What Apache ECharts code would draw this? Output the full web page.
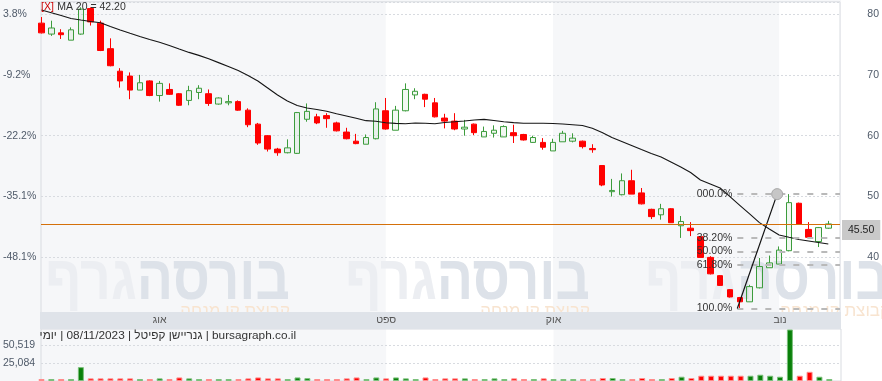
<!DOCTYPE html>
<html><head><meta charset="utf-8">
<script src="https://cdn.jsdelivr.net/npm/echarts@6/dist/echarts.min.js"></script>
<style>html,body{margin:0;padding:0;background:#f6f7f9;overflow:hidden}#c{width:882px;height:381px}</style>
</head><body><div id="c"></div>
<script>
// ---- data ----
const opens = [
78.5,76.7,76.9,75.7,76.7,80.9,78.5,74.3,70.6,69.8,
67.5,69.0,66.6,67.6,66.9,65.8,67.1,66.9,65.2,65.4,
65.6,64.2,61.9,60.0,57.8,57.2,57.1,62.7,63.1,63.3,
62.1,60.6,59.1,58.6,59.5,64.1,60.9,64.1,66.7,66.8,
65.4,62.9,62.4,61.1,61.9,59.8,60.4,59.8,60.5,60.2,
58.9,58.9,57.5,59.0,59.1,59.1,57.9,55.1,50.8,50.3,
52.6,50.6,47.9,47.0,48.0,45.2,44.8,43.4,40.0,37.0,
34.7,33.4,32.7,35.0,38.3,38.9,41.1,48.9,44.6,42.6,
44.8];
const closes = [
76.9,77.7,76.6,77.4,80.8,78.7,74.0,71.5,69.0,67.5,
68.7,66.6,68.6,66.8,65.0,67.4,67.8,65.3,66.2,65.6,
64.2,61.8,58.8,57.8,57.2,58.0,63.8,64.0,62.1,62.8,
60.8,59.5,58.7,59.7,64.4,61.1,64.2,67.6,67.3,66.0,
63.1,62.4,61.1,61.4,60.5,60.7,60.9,61.5,60.0,59.3,
59.7,58.1,58.9,60.4,59.6,58.2,57.7,51.9,51.0,52.6,
50.4,48.8,46.7,48.0,45.7,45.9,44.4,40.0,37.3,35.4,
33.5,32.7,35.2,38.5,39.1,41.2,49.0,45.5,43.3,44.9,
45.5];
const lows = [
76.8,76.4,75.9,75.7,76.6,78.1,73.9,71.4,67.9,66.0,
67.5,66.5,65.6,66.7,64.9,65.0,66.0,64.9,65.1,65.0,
64.1,61.4,58.5,57.4,56.7,57.1,57.0,62.3,61.9,61.3,
60.7,59.4,58.6,58.6,59.4,61.0,60.9,64.0,66.0,64.7,
63.0,61.2,60.9,60.0,60.1,59.8,59.7,59.8,58.8,59.2,
58.8,57.7,57.5,59.0,58.9,57.9,57.2,51.7,50.0,50.2,
50.4,48.7,46.3,46.2,45.7,43.2,43.5,40.0,37.2,35.3,
33.4,31.6,32.7,34.9,38.3,38.9,41.0,45.4,43.2,41.7,
44.7];
const highs = [
79.5,78.9,77.5,77.8,81.1,81.1,78.9,76.0,71.1,70.4,
70.0,69.1,69.0,68.6,67.0,68.2,68.3,67.6,66.3,66.7,
65.8,64.5,62.1,60.1,58.0,59.4,63.9,65.3,63.6,63.7,
62.3,61.3,60.3,60.2,65.5,66.2,64.9,68.6,67.8,66.9,
66.2,63.6,63.7,62.6,62.0,61.5,61.7,61.7,61.8,60.3,
60.0,59.6,59.5,60.8,60.4,59.2,58.6,55.1,52.9,53.8,
54.4,51.4,48.0,48.8,48.1,46.8,45.8,43.5,40.2,37.1,
34.8,33.5,35.5,39.9,40.3,41.8,50.4,49.0,45.8,45.0,
46.0];
const ma20 = [
80.66,80.21,79.75,79.26,79.01,78.77,78.57,77.95,77.37,76.83,
76.30,75.81,75.35,74.82,74.25,73.69,73.20,72.64,72.01,71.37,
70.70,69.89,68.99,67.84,66.69,65.70,64.96,64.55,64.31,64.01,
63.62,63.24,62.86,62.47,62.37,62.12,62.02,61.97,62.09,62.05,
61.97,62.17,62.28,62.42,62.58,62.68,62.50,62.30,62.15,62.04,
62.04,62.04,62.01,61.92,61.81,61.68,61.22,60.54,59.70,59.05,
58.39,57.73,57.08,56.50,55.68,54.86,53.95,52.72,52.06,51.40,
49.98,48.56,47.15,45.72,44.67,43.68,43.30,42.94,42.70,42.45,
42.20];
const volumes = [
2800,2800,2800,2800,19500,3700,3700,3700,3700,3700,
2800,2800,3700,2800,5000,3700,2800,2800,2800,2800,
2800,3700,5000,3700,3700,2800,5000,4000,2800,2800,
2800,3700,5000,2800,5000,3700,5000,3700,2800,5000,
2800,3700,3700,3700,2800,2800,3700,2800,3700,2800,
2800,3700,2800,2800,2800,2800,2800,4200,4200,2800,
2800,4200,2800,2800,4200,6000,4200,7400,7400,7400,
7400,7400,7400,8800,7400,6000,72300,7400,12900,6000,
2800];
const monthStarts = [12, 35, 52, 75];
const monthNames = ['אוג', 'ספט', 'אוק', 'נוב'];
const whiteBands = [[35, 52], [75, 81.19]];
const priceTicks = [40, 50, 60, 70, 80];
const pctTicks = ['-48.1%', '-35.1%', '-22.2%', '-9.2%', '3.8%'];
const volTicks = [25084, 50519];
const lastPrice = 45.5;
const fibHigh = 50.4, fibLow = 31.6;
const fibHighIdx = 74.8, fibLowIdx = 70.75;
const fibRatios = [0, 0.382, 0.5, 0.618, 1];
const fibLabels = ['000.0%', '38.20%', '50.00%', '61.80%', '100.0%'];
const footerText = 'bursagraph.co.il | גנריישן קפיטל | 08/11/2023 | יומי';
const maName = 'MA 20';

// ---- chart ----
const X_MIN = -0.05, X_MAX = 81.19;
const FONT = '"Liberation Sans", Arial, sans-serif';
const LBL = '#4f5a69';

const candleData = opens.map((o, i) => [i, o, closes[i], lows[i], highs[i]]);
const maData = ma20.map((v, i) => [i, v]);
const volData = volumes.map((v, i) => ({
  value: [i, v],
  itemStyle: closes[i] >= opens[i]
    ? { color: '#0a800a', borderColor: '#7cc07c', borderWidth: 1 }
    : { color: '#ff0000', borderColor: '#ff8c8c', borderWidth: 1 }
}));

const fibLines = fibRatios.map((r, k) => {
  const p = fibHigh - r * (fibHigh - fibLow);
  return [
    { coord: [fibLowIdx, p], label: { show: true, position: 'start', formatter: fibLabels[k], color: '#333', fontSize: 10.5, fontFamily: FONT, distance: 5 },
      lineStyle: { color: '#b9b9b9', width: 2, type: [6, 8] } },
    { coord: [X_MAX, p] }
  ];
});

const markLineData = fibLines.concat([
  [ { coord: [fibLowIdx, fibLow], label: { show: false }, lineStyle: { color: '#111', width: 1.2, type: 'solid' } },
    { coord: [fibHighIdx, fibHigh] } ],
  { yAxis: lastPrice, lineStyle: { color: '#d4700a', width: 1.2, type: 'solid' },
    label: { show: true, position: 'end', distance: 2, formatter: lastPrice.toFixed(2),
      backgroundColor: '#c9c9c9', color: '#222', fontSize: 10.5, fontFamily: FONT, padding: [5, 6, 4, 6], offset: [0, 6] } }
]);

const bandArea = whiteBands.map(b => [{ xAxis: b[0] }, { xAxis: b[1] }]);

const WM_FONT = '"Liberation Sans", "DejaVu Sans", sans-serif';
const wm = [];
[290, 590, 890].forEach(xr => {
  wm.push({
    type: 'text', z: -1, silent: true, x: xr, y: 282, scaleX: 0.96, scaleY: 1.12,
    style: { text: '{l|גרף}{d|בורסה}', align: 'right', verticalAlign: 'middle',
      rich: {
        l: { fill: '#eceef2', fontSize: 56, fontWeight: 'bold', fontFamily: WM_FONT },
        d: { fill: '#dde2e9', fontSize: 56, fontWeight: 'bold', fontFamily: WM_FONT }
      } }
  });
  wm.push({
    type: 'text', z: -1, silent: true, x: xr, y: 311,
    style: { text: 'קבוצת קו מנחה', align: 'right', verticalAlign: 'middle', fill: '#f8e4d0', fontSize: 17, fontFamily: WM_FONT }
  });
});

const option = {
  animation: false,
  backgroundColor: '#f6f7f9',
  textStyle: { fontFamily: FONT },
  grid: [
    { left: 40, right: 41, top: 1.83, height: 316.42, show: true, borderColor: '#d9dce1', borderWidth: 1, backgroundColor: 'transparent' },
    { left: 40, right: 41, top: 329, height: 52.35, show: true, borderColor: '#d9dce1', borderWidth: 1, backgroundColor: 'transparent' }
  ],
  xAxis: [
    { type: 'value', gridIndex: 0, min: X_MIN, max: X_MAX, show: false },
    { type: 'value', gridIndex: 1, min: X_MIN, max: X_MAX, position: 'top', z: 6,
      axisLine: { show: false }, axisTick: { show: false }, splitLine: { show: false },
      axisLabel: { customValues: monthStarts, margin: 3, color: '#555', fontSize: 10.5, fontFamily: FONT,
        formatter: v => { const k = monthStarts.indexOf(Math.round(v)); return k < 0 ? '' : monthNames[k]; } } }
  ],
  yAxis: [
    { type: 'value', gridIndex: 0, position: 'right', min: 30, max: 82, interval: 10,
      axisLine: { show: false }, axisTick: { show: false },
      splitLine: { show: true, lineStyle: { color: '#d8dbe0', type: [2, 2], width: 1 } },
      axisLabel: { align: 'right', margin: 39, color: LBL, fontSize: 10.5, fontFamily: FONT,
        formatter: v => priceTicks.indexOf(v) < 0 ? '' : String(v) } },
    { type: 'value', gridIndex: 0, position: 'left', min: 30, max: 82, interval: 10,
      axisLine: { show: false }, axisTick: { show: false }, splitLine: { show: false },
      axisLabel: { align: 'left', margin: 38, color: LBL, fontSize: 10.5, fontFamily: FONT,
        formatter: v => { const k = priceTicks.indexOf(v); return k < 0 ? '' : pctTicks[k]; } } },
    { type: 'value', gridIndex: 1, position: 'left', min: 0, max: 73000,
      axisLine: { show: false }, axisTick: { show: false }, splitLine: { show: false },
      axisLabel: { customValues: volTicks, align: 'left', margin: 38, color: LBL, fontSize: 10.5, fontFamily: FONT,
        formatter: v => volTicks.indexOf(v) < 0 ? '' : v.toLocaleString('en-US') } }
  ],
  series: [
    { type: 'line', name: 'bands', xAxisIndex: 0, yAxisIndex: 0, z: -2, data: [], silent: true,
      markArea: { z: -2, silent: true, itemStyle: { color: '#ffffff' }, data: bandArea } },
    { type: 'line', name: 'bandsVol', xAxisIndex: 1, yAxisIndex: 2, z: -2, data: [], silent: true,
      markArea: { z: -2, silent: true, itemStyle: { color: '#ffffff' }, data: bandArea },
      markLine: { z: -1, silent: true, symbol: ['none', 'none'], label: { show: false },
        lineStyle: { color: '#d8dbe0', type: [2, 2], width: 1 },
        data: volTicks.map(v => ({ yAxis: v })) } },
    { type: 'candlestick', name: 'price', xAxisIndex: 0, yAxisIndex: 0, z: 2, barWidth: 6,
      data: candleData, encode: { x: 0, y: [1, 2, 3, 4] },
      itemStyle: { color: 'rgba(70,160,70,0.07)', color0: '#ff0000', borderColor: '#3c9c3c', borderColor0: '#ff0000', borderWidth: 1 },
      markLine: { silent: true, symbol: ['none', 'none'], animation: false, data: markLineData },
      markPoint: { silent: true, symbol: 'circle', symbolSize: 11, label: { show: false },
        itemStyle: { color: '#c6c6c6', borderColor: '#a9a9a9', borderWidth: 1 },
        data: [{ coord: [fibHighIdx, fibHigh] }] } },
    { type: 'line', name: maName, xAxisIndex: 0, yAxisIndex: 0, z: 3, data: maData,
      showSymbol: false, symbol: 'none', lineStyle: { color: '#151515', width: 1.1 } },
    { type: 'bar', name: 'volume', xAxisIndex: 1, yAxisIndex: 2, z: 2, barWidth: 6, data: volData }
  ],
  graphic: [
    { type: 'rect', z: -3, silent: true, shape: { x: 841, y: 0, width: 41, height: 381 }, style: { fill: '#ffffff' } }
  ].concat(wm).concat([
    { type: 'rect', z: 5, silent: true, shape: { x: 40, y: 312, width: 801, height: 17 }, style: { fill: '#dfe3e9' } },
    { type: 'text', z: 5, silent: true, x: 296, y: 336,
      style: { text: '\u202B' + footerText + '\u202C', align: 'right', verticalAlign: 'middle', fill: '#333', fontSize: 11.8, fontFamily: FONT } },
    { type: 'text', z: 5, silent: true, x: 41, y: 7,
      style: { text: '{x|[X]} {t|' + maName + ' = ' + ma20[ma20.length - 1].toFixed(2) + '}', verticalAlign: 'middle',
        rich: { x: { fill: '#cc0000', fontSize: 10.5, fontFamily: FONT }, t: { fill: '#333', fontSize: 10.5, fontFamily: FONT } } } }
  ])
};

const chart = echarts.init(document.getElementById('c'), null, { renderer: 'canvas', width: 882, height: 381 });
chart.setOption(option);
</script>
</body></html>
